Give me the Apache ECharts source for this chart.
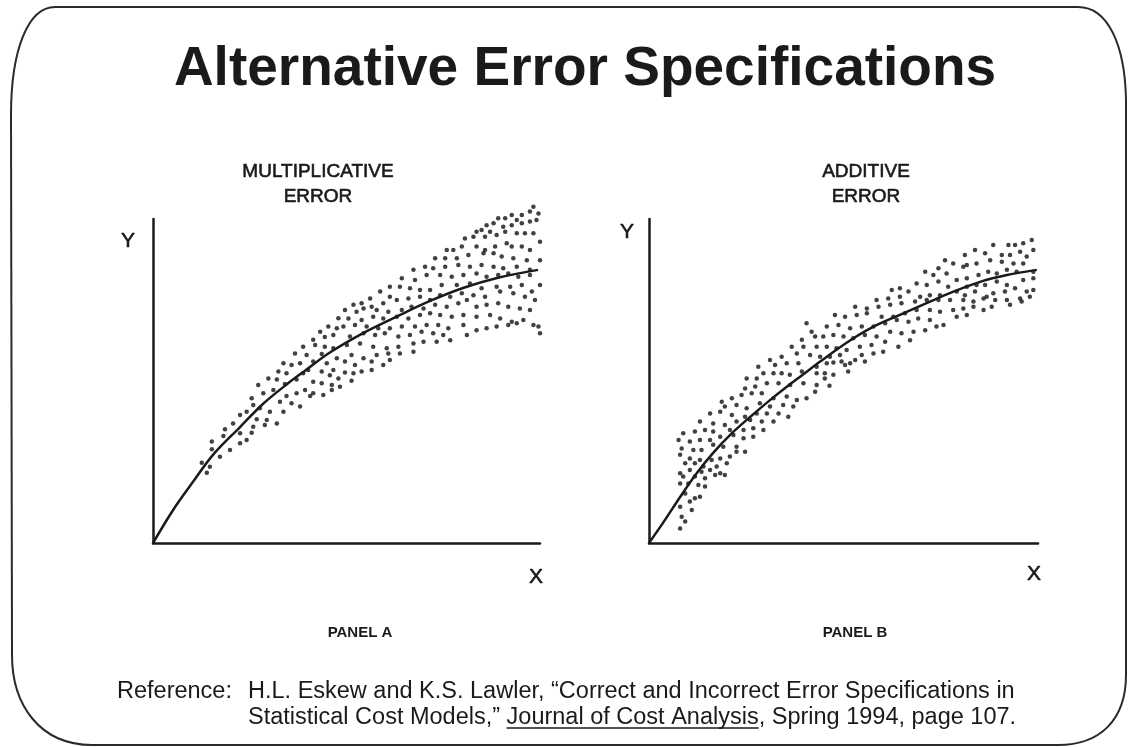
<!DOCTYPE html>
<html>
<head>
<meta charset="utf-8">
<script src="https://cdn.jsdelivr.net/npm/echarts/dist/echarts.min.js"></script>
<style>
html,body{margin:0;padding:0;background:#ffffff;}
#chart{width:1128px;height:747px;}
</style>
</head>
<body>
<div id="chart"></div>
<script>
// ---------- DATA (units: 0..100 along each axis) ----------
const titleText = 'Alternative Error Specifications';
const panelTitles = [['MULTIPLICATIVE', 'ERROR'], ['ADDITIVE', 'ERROR']];
const panelLabels = ['PANEL A', 'PANEL B'];
const axisNames = ['X', 'Y'];
const refLabel = 'Reference:';
const refLine1 = 'H.L. Eskew and K.S. Lawler, \u201cCorrect and Incorrect Error Specifications in';
const refLine2a = 'Statistical Cost Models,\u201d ';
const refJournal = 'Journal of Cost Analysis';
const refLine2b = ', Spring 1994, page 107.';

// Panel A: fitted curve
const curveA = [[0,0],[5.2,10.2],[10.3,18.8],[15.5,27.2],[22.5,35.8],[28.4,42.9],[34.6,49.0],[39.3,53.2],[45.7,58.8],[54.3,64.8],[63.0,69.9],[71.6,74.7],[80.1,78.7],[88.9,81.8],[99.5,84.3]];

// Panel A: observations (multiplicative error)
const dotsA = [
[47.9,69.4],[45.3,66.8],[47.5,66.3],[43.2,65.2],[44.4,63.6],[46.6,64.2],[41.4,62.7],[38.8,60.6],[41.9,61.1],[44.4,60.6],[46.6,60.1],[36.7,58.5],[39.7,58.0],[43.6,58.3],[33.7,55.5],[35.8,54.9],[38.0,55.5],[41.4,56.0],[44.9,55.5],[47.5,57.0],[32.4,52.9],[34.5,52.4],[40.1,53.4],[43.6,52.9],[46.6,53.4],[29.8,50.8],
[32.0,50.5],[37.1,50.5],[38.8,52.4],[27.2,48.8],[34.1,49.1],[41.4,49.8],[43.6,49.3],[46.2,48.8],[48.3,48.2],[39.3,47.2],[37.1,46.2],[34.5,45.4],[40.6,45.4],[44.0,45.7],[46.2,47.2],[25.5,44.7],[28.5,46.2],[31.1,47.2],[32.8,43.6],[35.8,43.1],[38.0,42.1],[41.4,46.2],[25.9,42.6],[27.6,41.6],[30.2,40.5],[33.7,40.5],[22.5,39.5],[24.2,40.5],[26.8,38.2],[29.4,38.0],[32.0,36.9],[28.9,36.4],[20.7,36.9],[25.9,35.9],[18.6,35.1],[22.5,33.9],[25.5,34.0],[18.2,33.0],[19.9,28.7],[22.5,30.8],[24.2,31.8],[15.2,31.3],[15.2,28.9],[17.3,26.6],[12.6,24.8],[14.7,23.5],[13.9,21.7],
[98.3,103.8],[97.4,102.3],[99.6,101.7],[95.3,101.2],[92.7,101.2],[94.0,99.7],[91.0,100.2],[89.2,100.2],[88.0,98.7],[86.2,98.1],[84.9,96.6],[83.6,96.1],[87.1,96.1],[90.5,97.6],[92.7,98.1],[95.3,98.7],[97.4,99.2],[99.1,99.7],
[80.6,94.0],[82.8,94.5],[85.8,94.5],[88.8,95.1],[91.0,96.1],[94.0,95.6],[96.1,95.6],[98.3,95.6],[100.0,93.0],
[79.8,91.5],[83.6,91.5],[85.8,90.4],[88.4,91.5],[91.4,92.5],[92.7,91.5],[95.3,91.5],[97.4,90.4],[75.9,90.4],[77.6,90.4],
[72.9,87.9],[75.5,87.9],[78.5,87.9],[81.5,88.9],[85.4,89.4],[88.0,89.4],[90.1,88.4],[93.1,87.9],[96.6,87.3],[100.0,87.3],
[67.3,84.3],[70.3,85.3],[72.4,84.8],[75.5,85.3],[78.9,85.8],[81.9,85.3],[84.9,85.8],[88.0,85.3],[90.5,84.8],[94.0,85.3],[97.4,84.3],
[64.3,81.7],[67.7,81.2],[70.7,82.7],[74.2,82.7],[77.2,82.2],[80.2,82.7],[83.6,83.2],[86.2,82.2],[89.2,82.7],[91.8,83.2],[94.4,82.2],[97.4,82.7],[100.0,79.6],
[61.2,79.1],[63.8,79.1],[66.4,78.6],[69.0,78.1],[71.6,78.1],[74.6,79.6],[78.5,79.6],[81.9,80.1],[84.9,78.6],[88.8,79.1],[92.3,79.1],[95.3,79.6],[97.9,77.6],
[58.7,77.6],[61.2,76.0],[56.1,75.5],[53.9,74.0],[51.8,73.5],[56.5,72.9],[59.5,74.0],[63.0,75.0],[66.0,75.5],[69.0,76.0],[71.6,75.0],[74.2,76.5],[76.8,76.0],[79.8,77.1],[82.8,76.5],[85.8,76.0],[89.7,77.6],[93.1,77.1],[96.1,76.0],[98.7,75.0],
[49.6,71.9],[52.6,71.4],[54.4,72.4],[57.8,71.9],[60.8,71.4],[64.3,71.9],[66.8,72.9],[69.9,72.4],[72.9,73.5],[75.9,72.9],[78.9,74.0],[81.1,75.0],[83.6,72.9],[86.2,73.5],[89.2,74.0],[91.8,72.9],[94.8,72.4],[97.4,71.9],
[50.5,69.3],[53.9,68.8],[56.9,69.8],[59.5,69.3],[63.0,69.8],[66.0,69.3],[69.0,70.4],[71.6,70.9],[74.2,70.4],[77.2,69.8],[80.2,70.4],[83.6,69.8],[87.1,70.4],[89.7,69.3],[92.7,68.3],[95.7,68.8],[98.3,67.3],
[49.2,66.8],[52.2,67.3],[55.2,66.8],[58.2,66.3],[61.2,66.3],[64.3,66.8],[67.7,66.8],[70.7,67.3],[73.7,67.3],[76.3,66.3],[80.2,67.3],[83.6,65.7],[86.2,66.3],[88.8,66.8],[91.8,67.3],[94.0,67.8],[99.6,66.8],
[50.9,63.7],[54.4,64.7],[57.4,64.2],[59.9,64.7],[63.4,63.7],[66.4,64.2],[69.4,65.2],[72.4,64.7],[75.0,64.2],[81.1,64.2],[100.0,64.7],
[50.1,61.1],[53.5,61.6],[56.9,60.6],[60.4,60.1],[63.4,60.6],[67.3,61.6],[69.9,62.1],[73.3,62.1],[76.8,62.6],
[51.3,58.0],[54.4,57.0],[57.8,58.0],[60.8,58.5],[63.8,58.5],[67.3,59.0],
[49.6,56.0],[52.2,54.9],[56.5,56.0],[59.5,54.9],[61.2,56.5],[49.6,52.6],[51.8,52.4],[53.9,52.9],[56.5,53.4],[45.7,51.8],[47.9,50.8],[51.3,50.1]
];

// Panel B: fitted curve
const curveB = [[0,0],[3.6,6.2],[8.0,14.2],[12.3,21.6],[16.5,27.8],[20.8,33.3],[26.0,38.9],[31.1,44.1],[35.5,48.3],[39.6,52.0],[44.0,56.0],[50.9,61.9],[57.6,66.7],[64.5,70.4],[71.5,74.1],[78.1,77.5],[85.1,80.6],[92.0,82.7],[99.7,84.3]];

// Panel B: observations (additive error)
const dotsB = [
[40.5,67.8],[41.8,65.2],[39.3,62.7],[42.7,63.7],[36.7,60.6],[39.7,60.6],[43.1,60.6],[34.1,57.5],[38.0,58.5],[41.4,58.0],[31.1,56.5],[35.4,55.5],[38.4,55.5],[28.1,54.4],[32.4,54.9],[34.1,52.4],[36.2,51.9],[29.4,52.4],[32.0,52.4],[25.1,50.8],[27.7,50.8],[43.1,54.4],[43.1,52.4],
[39.3,52.9],[24.7,47.7],[27.3,48.3],[30.3,49.3],[33.3,49.3],[36.3,48.8],[39.7,49.3],[43.1,48.8],[23.8,45.7],[26.4,46.2],[29.0,46.2],[21.3,44.7],[18.7,43.6],[32.0,44.7],[35.4,45.2],[38.0,44.1],[40.5,44.7],[42.7,46.7],[19.5,42.1],[22.5,42.6],[25.1,41.6],[28.5,43.1],[31.1,42.1],[34.5,42.6],[37.1,42.1],[15.7,40.0],[18.3,40.5],[21.3,39.5],[24.7,39.0],[27.7,40.0],[30.3,40.0],[33.3,40.0],[35.8,39.0],[13.1,37.5],[16.5,36.9],[19.5,36.4],[22.5,37.5],[26.0,38.0],[29.0,37.5],[32.0,37.5],[8.8,33.9],[11.8,34.4],[14.4,34.9],[16.5,34.4],[20.8,34.9],[24.3,34.9],[26.8,35.4],[29.4,34.9],[7.6,31.8],[10.5,31.3],[13.1,31.8],[15.7,31.8],[18.3,32.8],[21.7,33.3],[24.3,32.3],[26.8,32.8],[8.4,29.2],[11.4,28.7],[13.5,28.7],[16.5,30.3],[19.1,29.7],[22.5,29.7],[24.7,28.2],[8.0,27.2],[10.5,26.1],[13.1,25.6],[16.1,25.6],[18.3,26.1],[20.8,26.7],[22.5,28.2],[9.3,24.6],[11.8,24.6],[14.0,23.6],[17.4,23.6],[20.0,24.6],[8.0,21.5],[10.5,22.5],[13.5,22.0],[15.7,22.5],[18.3,21.5],[8.8,20.5],[11.8,20.5],[14.4,20.0],[17.0,21.0],[19.5,21.0],[8.0,18.4],[10.1,18.4],[12.7,17.9],[14.4,17.4],[9.3,15.3],[11.8,13.8],[13.1,14.3],[8.0,11.2],[10.5,12.8],[11.0,10.2],[8.4,8.1],[9.3,6.6],[8.0,4.5],
[98.4,93.5],[96.2,92.5],[94.1,92.0],[92.4,92.0],[88.5,92.0],[86.4,89.4],[83.8,90.4],[95.4,89.9],[98.8,90.4],[90.7,88.9],[92.8,88.9],[97.1,88.4],[81.2,88.9],[81.7,85.8],[84.2,86.3],[87.7,87.3],[90.7,86.8],[93.7,86.3],[96.2,86.3],[76.1,87.3],[78.2,86.3],[80.8,85.3],[74.4,84.8],[71.0,83.7],[73.1,82.7],[76.5,83.2],[79.1,81.2],[81.7,81.7],[84.7,82.7],[87.2,83.7],[89.4,83.2],[92.0,84.3],[94.5,83.7],[98.8,83.7],
[68.8,80.1],[64.5,78.6],[62.4,78.1],[66.7,77.6],[71.4,79.6],[74.4,80.7],[76.9,79.1],[81.7,79.1],[84.2,79.6],[86.4,79.6],[89.4,80.7],[92.0,79.6],[96.2,81.2],[98.8,81.7],
[58.5,75.0],[61.5,75.5],[64.5,76.0],[69.7,76.0],[72.2,76.5],[74.8,76.5],[79.1,77.6],[81.2,76.5],[83.8,77.6],[86.8,76.0],[88.5,77.1],[91.5,77.6],[94.1,78.6],[97.1,77.6],[98.8,78.1],
[53.0,72.9],[56.0,72.4],[59.0,72.9],[62.0,73.5],[64.9,74.0],[68.4,74.5],[71.4,75.0],[74.4,75.0],[77.4,75.0],[80.8,75.0],[83.4,74.5],[86.0,75.5],[89.0,75.0],[92.0,75.0],[95.4,75.5],[97.9,76.0],
[47.8,70.4],[50.4,69.8],[53.4,70.4],[56.0,70.9],[59.8,69.8],[62.8,69.8],[65.8,70.9],[68.8,71.9],[72.2,71.9],[74.8,71.4],[78.2,71.9],[80.8,72.4],[83.4,72.9],[86.0,71.9],[88.1,72.9],[92.8,73.5],[95.8,74.5],
[45.7,66.8],[48.7,67.3],[51.7,66.3],[54.7,66.8],[57.7,66.8],[60.7,67.8],[63.7,68.8],[66.7,68.3],[69.2,69.3],[72.2,68.8],[75.7,67.3],[79.1,69.8],[81.7,70.4],
[44.8,63.7],[47.4,64.2],[50.0,63.7],[52.5,63.2],[55.5,64.2],[58.5,63.7],[62.0,65.2],[64.9,64.7],[68.0,65.2],[71.0,65.7],[73.9,66.8],
[45.7,60.6],[48.2,60.1],[50.8,59.6],[54.2,60.6],[57.2,61.1],[60.7,62.1],[64.1,60.6],[67.1,62.6],
[44.0,57.5],[46.5,57.5],[49.1,58.0],[54.7,58.0],[57.7,58.5],[60.2,59.0],
[45.7,55.5],[47.4,55.7],[49.5,56.0],[50.4,54.9],[51.7,55.5],[53.0,56.5],[55.5,56.0],[45.2,52.4],[47.4,51.9],[45.2,50.8],[51.2,52.9],[46.4,48.5]
];

// ---------- RENDER ----------
const INK = '#1a1a1a';
const FONT = '"Liberation Sans", Arial, Helvetica, sans-serif';
const chart = echarts.init(document.getElementById('chart'), null, {renderer: 'canvas'});

const measureCtx = document.createElement('canvas').getContext('2d');
function textWidth(s, size, weight) {
  measureCtx.font = (weight || 'normal') + ' ' + size + 'px ' + FONT;
  return measureCtx.measureText(s).width;
}

function txt(s, x, y, size, opts) {
  opts = opts || {};
  const style = {
    text: s, fill: INK, fontSize: size, fontFamily: FONT,
    fontWeight: opts.weight || 'normal',
    align: opts.align || 'center', verticalAlign: 'middle'
  };
  if (opts.medium) { style.stroke = INK; style.lineWidth = 0.6; }
  return {type: 'text', x: x, y: y, silent: true, style: style};
}

const borderStyle = {stroke: '#2a2a2a', lineWidth: 2, fill: null};
const border = [
  {type: 'line', shape: {x1: 55, y1: 7, x2: 1078, y2: 7}},
  {type: 'bezierCurve', shape: {x1: 1078, y1: 7, cpx1: 1108, cpy1: 7, cpx2: 1125, cpy2: 45, x2: 1126, y2: 100}},
  {type: 'line', shape: {x1: 1126, y1: 100, x2: 1126, y2: 675}},
  {type: 'bezierCurve', shape: {x1: 1126, y1: 675, cpx1: 1126, cpy1: 720, cpx2: 1100, cpy2: 745, x2: 1058, y2: 745}},
  {type: 'line', shape: {x1: 1058, y1: 745, x2: 92, y2: 745}},
  {type: 'bezierCurve', shape: {x1: 92, y1: 745, cpx1: 40, cpy1: 745, cpx2: 12, cpy2: 705, x2: 12, y2: 655}},
  {type: 'line', shape: {x1: 12, y1: 655, x2: 11, y2: 115}},
  {type: 'bezierCurve', shape: {x1: 11, y1: 115, cpx1: 11, cpy1: 50, cpx2: 28, cpy2: 7, x2: 55, y2: 7}}
].map(e => Object.assign(e, {silent: true, style: borderStyle}));

const refSize = 23.5;
const refX0 = 117;
const refX1 = 248;
const refY1 = 692, refY2 = 718;
const w2a = textWidth(refLine2a, refSize);
const wJ = textWidth(refJournal, refSize);

const graphics = border.concat([
  txt(titleText, 585, 70, 55, {weight: 'bold'}),
  txt(panelTitles[0][0], 318, 172, 19, {medium: true}),
  txt(panelTitles[0][1], 318, 197, 19, {medium: true}),
  txt(panelTitles[1][0], 866, 172, 19, {medium: true}),
  txt(panelTitles[1][1], 866, 197, 19, {medium: true}),
  txt(axisNames[1], 128, 241, 21, {medium: true}),
  txt(axisNames[0], 536, 577, 21, {medium: true}),
  txt(axisNames[1], 627, 232, 21, {medium: true}),
  txt(axisNames[0], 1034, 574, 21, {medium: true}),
  txt(panelLabels[0], 360, 633, 15, {weight: 'bold'}),
  txt(panelLabels[1], 855, 633, 15, {weight: 'bold'}),
  txt(refLabel, refX0, refY1, refSize, {align: 'left'}),
  txt(refLine1, refX1, refY1, refSize, {align: 'left'}),
  txt(refLine2a, refX1, refY2, refSize, {align: 'left'}),
  txt(refJournal, refX1 + w2a, refY2, refSize, {align: 'left'}),
  txt(refLine2b, refX1 + w2a + wJ, refY2, refSize, {align: 'left'}),
  {type: 'line', silent: true, shape: {x1: refX1 + w2a, y1: refY2 + 10, x2: refX1 + w2a + wJ, y2: refY2 + 10},
   style: {stroke: INK, lineWidth: 1.5}}
]);

function axisCfg(gridIndex) {
  return {
    gridIndex: gridIndex, type: 'value', min: 0, max: 100,
    axisLine: {show: true, onZero: false, lineStyle: {color: INK, width: 2.5}},
    axisTick: {show: false}, axisLabel: {show: false}, splitLine: {show: false}
  };
}

function scatter(idx, data) {
  return {type: 'scatter', xAxisIndex: idx, yAxisIndex: idx, data: data, symbol: 'circle',
          symbolSize: 4.5, clip: false, silent: true, itemStyle: {color: '#111111'}};
}
function curve(idx, data) {
  return {type: 'line', xAxisIndex: idx, yAxisIndex: idx, data: data, smooth: 0.35,
          showSymbol: false, clip: false, silent: true, lineStyle: {color: INK, width: 2.5}};
}

chart.setOption({
  animation: false,
  backgroundColor: '#ffffff',
  grid: [
    {left: 153, top: 219, width: 387, height: 324},
    {left: 649, top: 219, width: 389, height: 324}
  ],
  xAxis: [axisCfg(0), axisCfg(1)],
  yAxis: [axisCfg(0), axisCfg(1)],
  series: [scatter(0, dotsA), curve(0, curveA), scatter(1, dotsB), curve(1, curveB)],
  graphic: {elements: graphics}
});
</script>
</body>
</html>
